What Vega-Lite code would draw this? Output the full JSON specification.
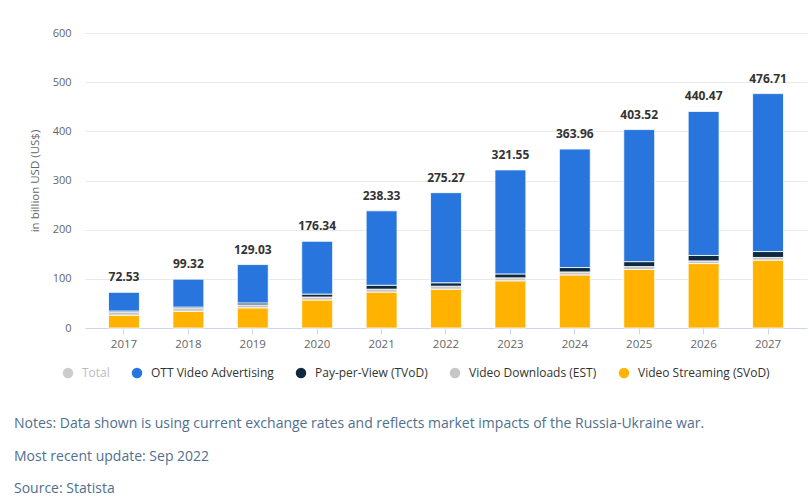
{
  "$schema": "https://vega.github.io/schema/vega-lite/v6.json",
  "autosize": "none",
  "width": 722,
  "height": 295,
  "padding": {"left": 85, "top": 33, "right": 2, "bottom": 169},
  "background": "white",
  "config": {
    "font": "Open Sans",
    "view": {"stroke": null},
    "axis": {"labelFont": "Open Sans", "titleFont": "Open Sans"}
  },
  "title": {
    "text": ["Notes: Data shown is using current exchange rates and reflects market impacts of the Russia-Ukraine war.", "Most recent update: Sep 2022", "Source: Statista"],
    "orient": "bottom",
    "anchor": "start",
    "frame": "group",
    "dx": -71,
    "offset": 38,
    "fontSize": 14,
    "fontWeight": "normal",
    "color": "#4f6f8f",
    "lineHeight": 32.5,
    "font": "Open Sans"
  },
  "datasets": {
    "bars": [
      {"year": "2017", "segment": "Video Streaming (SVoD)", "value": 26},
      {"year": "2017", "segment": "Video Downloads (EST)", "value": 6},
      {"year": "2017", "segment": "Pay-per-View (TVoD)", "value": 2.5},
      {"year": "2017", "segment": "OTT Video Advertising", "value": 38.03},
      {"year": "2018", "segment": "Video Streaming (SVoD)", "value": 34},
      {"year": "2018", "segment": "Video Downloads (EST)", "value": 5.5},
      {"year": "2018", "segment": "Pay-per-View (TVoD)", "value": 3},
      {"year": "2018", "segment": "OTT Video Advertising", "value": 56.82},
      {"year": "2019", "segment": "Video Streaming (SVoD)", "value": 41},
      {"year": "2019", "segment": "Video Downloads (EST)", "value": 6},
      {"year": "2019", "segment": "Pay-per-View (TVoD)", "value": 4},
      {"year": "2019", "segment": "OTT Video Advertising", "value": 78.03},
      {"year": "2020", "segment": "Video Streaming (SVoD)", "value": 57},
      {"year": "2020", "segment": "Video Downloads (EST)", "value": 6},
      {"year": "2020", "segment": "Pay-per-View (TVoD)", "value": 6},
      {"year": "2020", "segment": "OTT Video Advertising", "value": 107.34},
      {"year": "2021", "segment": "Video Streaming (SVoD)", "value": 73},
      {"year": "2021", "segment": "Video Downloads (EST)", "value": 6},
      {"year": "2021", "segment": "Pay-per-View (TVoD)", "value": 8},
      {"year": "2021", "segment": "OTT Video Advertising", "value": 151.33},
      {"year": "2022", "segment": "Video Streaming (SVoD)", "value": 79},
      {"year": "2022", "segment": "Video Downloads (EST)", "value": 6},
      {"year": "2022", "segment": "Pay-per-View (TVoD)", "value": 7},
      {"year": "2022", "segment": "OTT Video Advertising", "value": 183.27},
      {"year": "2023", "segment": "Video Streaming (SVoD)", "value": 96},
      {"year": "2023", "segment": "Video Downloads (EST)", "value": 6},
      {"year": "2023", "segment": "Pay-per-View (TVoD)", "value": 8},
      {"year": "2023", "segment": "OTT Video Advertising", "value": 211.55},
      {"year": "2024", "segment": "Video Streaming (SVoD)", "value": 108},
      {"year": "2024", "segment": "Video Downloads (EST)", "value": 6},
      {"year": "2024", "segment": "Pay-per-View (TVoD)", "value": 9},
      {"year": "2024", "segment": "OTT Video Advertising", "value": 240.96},
      {"year": "2025", "segment": "Video Streaming (SVoD)", "value": 119},
      {"year": "2025", "segment": "Video Downloads (EST)", "value": 6},
      {"year": "2025", "segment": "Pay-per-View (TVoD)", "value": 10},
      {"year": "2025", "segment": "OTT Video Advertising", "value": 268.52},
      {"year": "2026", "segment": "Video Streaming (SVoD)", "value": 131},
      {"year": "2026", "segment": "Video Downloads (EST)", "value": 5.5},
      {"year": "2026", "segment": "Pay-per-View (TVoD)", "value": 11},
      {"year": "2026", "segment": "OTT Video Advertising", "value": 292.97},
      {"year": "2027", "segment": "Video Streaming (SVoD)", "value": 138},
      {"year": "2027", "segment": "Video Downloads (EST)", "value": 5.5},
      {"year": "2027", "segment": "Pay-per-View (TVoD)", "value": 12},
      {"year": "2027", "segment": "OTT Video Advertising", "value": 321.21}
    ],
    "totals": [
      {"year": "2017", "total": 72.53},
      {"year": "2018", "total": 99.32},
      {"year": "2019", "total": 129.03},
      {"year": "2020", "total": 176.34},
      {"year": "2021", "total": 238.33},
      {"year": "2022", "total": 275.27},
      {"year": "2023", "total": 321.55},
      {"year": "2024", "total": 363.96},
      {"year": "2025", "total": 403.52},
      {"year": "2026", "total": 440.47},
      {"year": "2027", "total": 476.71}
    ]
  },
  "encoding": {
    "x": {
      "field": "year",
      "type": "ordinal",
      "scale": {"paddingInner": 0.52, "paddingOuter": 0.365},
      "axis": {
        "title": null,
        "labelAngle": 0,
        "labelColor": "#666666",
        "labelFontSize": 11.5,
        "labelPadding": 4,
        "domainColor": "#ccd6eb",
        "tickColor": "#ccd6eb",
        "tickSize": 6,
        "grid": false
      }
    }
  },
  "layer": [
    {
      "data": {"name": "bars"},
      "transform": [
        {"calculate": "indexof(['Video Streaming (SVoD)','Video Downloads (EST)','Pay-per-View (TVoD)','OTT Video Advertising'], datum.segment)", "as": "ord"}
      ],
      "mark": {"type": "bar", "stroke": "white", "strokeWidth": 0.8},
      "encoding": {
        "y": {
          "field": "value",
          "type": "quantitative",
          "stack": "zero",
          "scale": {"domain": [0, 600], "nice": false},
          "axis": {
            "title": "in billion USD (US$)",
            "titleColor": "#666666",
            "titleFontSize": 11.5,
            "titleFontWeight": "normal",
            "titlePadding": 12,
            "values": [0, 100, 200, 300, 400, 500, 600],
            "labelColor": "#666666",
            "labelFontSize": 11,
            "labelPadding": 14,
            "domain": false,
            "ticks": false,
            "gridColor": "#e9e9e9",
            "gridWidth": 1
          }
        },
        "order": {"field": "ord", "type": "quantitative"},
        "color": {
          "field": "segment",
          "type": "nominal",
          "scale": {
            "domain": ["Total", "OTT Video Advertising", "Pay-per-View (TVoD)", "Video Downloads (EST)", "Video Streaming (SVoD)"],
            "range": ["#cccccc", "#2876dd", "#0f2a40", "#c6c6c6", "#ffb300"]
          },
          "legend": {
            "title": null,
            "orient": "none",
            "legendX": -23,
            "legendY": 334,
            "direction": "horizontal",
            "columns": 5,
            "symbolType": "circle",
            "symbolSize": 110,
            "symbolStrokeWidth": 0,
            "labelFontSize": 12,
            "labelColor": {"expr": "datum.label === 'Total' ? '#bbbbbb' : '#333333'"},
            "labelFont": "Open Sans",
            "columnPadding": 21,
            "labelOffset": 8
          }
        }
      }
    },
    {
      "data": {"name": "totals"},
      "mark": {"type": "text", "dy": -8, "baseline": "bottom", "fontWeight": "bold", "fontSize": 12, "color": "#333333", "font": "Open Sans"},
      "encoding": {
        "y": {"field": "total", "type": "quantitative"},
        "text": {"field": "total", "type": "quantitative", "format": ".2f"}
      }
    }
  ]
}
